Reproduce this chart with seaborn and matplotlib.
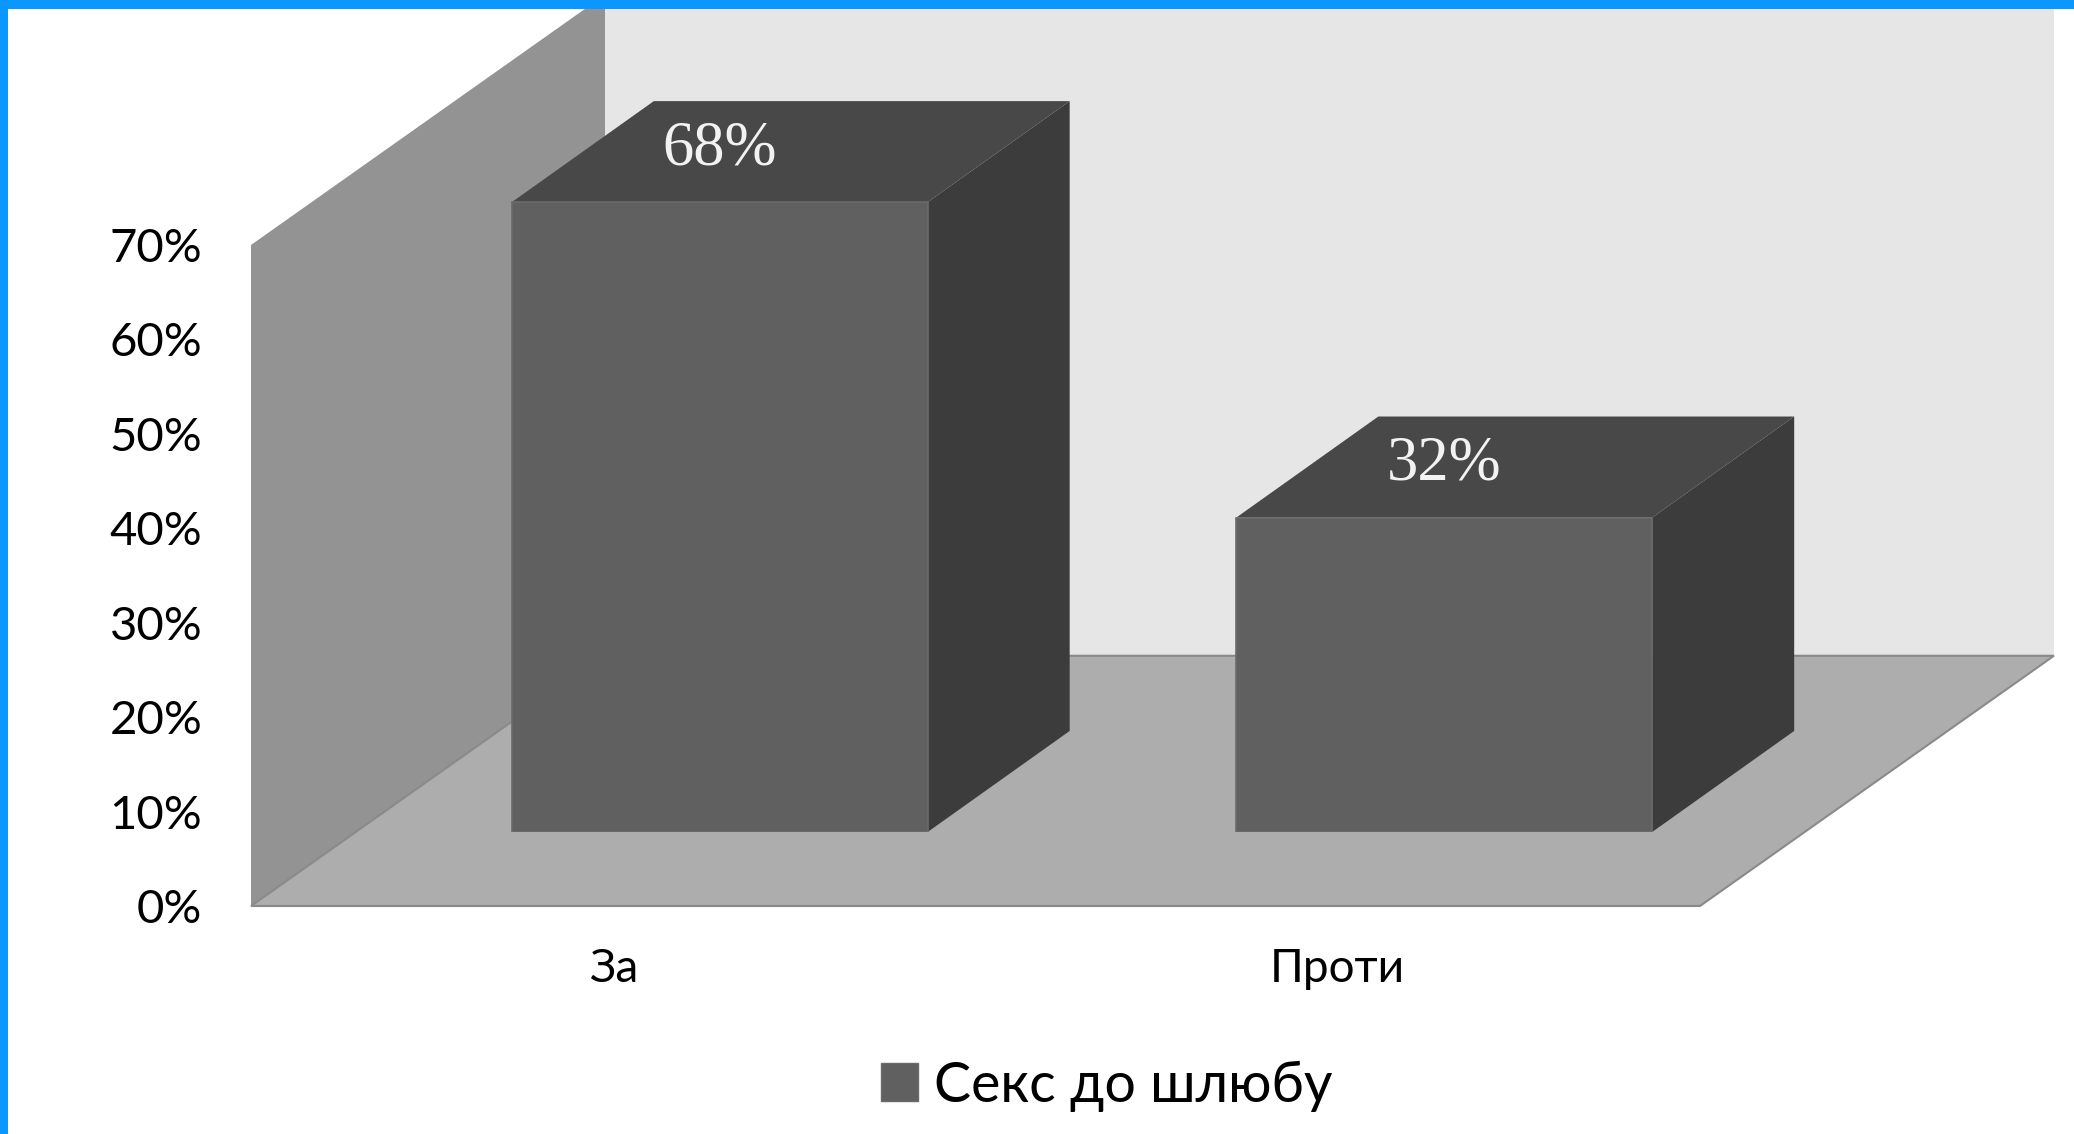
"""
3D style bar chart, drawn with seaborn bars and projected side faces
"""
import matplotlib
matplotlib.use("Agg")
import matplotlib.pyplot as plt
import seaborn as sns
from matplotlib.patches import Patch, Polygon, Rectangle

categories = ['За', 'Проти']
# heights as measured against the wall scale, the printed labels differ a bit
bar_heights = [66.7, 33.3]
value_labels = ['68%', '32%']
y_ticks = [0, 10, 20, 30, 40, 50, 60, 70]
y_tick_labels = ['0%', '10%', '20%', '30%', '40%', '50%', '60%', '70%']
series_name = 'Секс до шлюбу'

W, H = 2074, 1134
BLUE = '#0a97ff'
FRONT = '#606060'
TOP = '#484848'
SIDE = '#3c3c3c'
LEFT_WALL = '#939393'
BACK_WALL = '#e6e6e6'
FLOOR = '#adadad'
EDGE = '#8a8a8a'
BAR_EDGE = '#6a6a6a'

sns.set_theme(style='white')
plt.rcParams['font.family'] = ['Lato', 'Noto Sans', 'DejaVu Sans']

fig = plt.figure(figsize=(W / 100, H / 100), dpi=100, facecolor='white')


def axes_px(left, bottom_y, width, height):
    """Axes rectangle from pixel values, y measured from the top."""
    return fig.add_axes([left / W, (H - bottom_y) / H, width / W, height / H])


def add_poly(ax, pts, color, edge='none'):
    ax.add_patch(Polygon(pts, closed=True, facecolor=color, edgecolor=edge,
                         linewidth=1.5, clip_on=False))


# floor plane axes: carries the scale and tick labels
ax_floor = axes_px(251, 906, 1449, 661)
ax_floor.set_xlim(-0.5, 1.5)
ax_floor.set_ylim(0, 70)
sns.despine(ax=ax_floor, left=True, bottom=True, top=True, right=True)
ax_floor.patch.set_alpha(0)

depth_x, depth_y = 0.4886, 26.5
x0, x1 = -0.5, 1.5
add_poly(ax_floor, [(x0 + depth_x, depth_y), (x1 + depth_x, depth_y),
                    (x1 + depth_x, 100), (x0 + depth_x, 100)], BACK_WALL)
add_poly(ax_floor, [(x0, 0), (x0, 70), (x0 + depth_x, 70 + depth_y),
                    (x0 + depth_x, depth_y)], LEFT_WALL)
add_poly(ax_floor, [(x0, 0), (x1, 0), (x1 + depth_x, depth_y),
                    (x0 + depth_x, depth_y)], FLOOR, EDGE)

ax_floor.set_xticks([0, 1], categories)
ax_floor.set_yticks(y_ticks, y_tick_labels)
ax_floor.tick_params(axis='y', length=0, pad=35, labelsize=34, labelcolor='black')
ax_floor.tick_params(axis='x', length=0, pad=30, labelsize=33, labelcolor='black')

# bars stand further back on the floor, so their axes is shifted
ax_bars = axes_px(251 + 106.5, 906 - 74, 1449, 661)
sns.barplot(x=categories, y=bar_heights, color=FRONT, saturation=1, width=0.574,
            edgecolor=BAR_EDGE, linewidth=1.2, ax=ax_bars, zorder=3)
ax_bars.set_xlim(-0.5, 1.5)
ax_bars.set_ylim(0, 70)
ax_bars.axis('off')

bar_dx, bar_dy = 0.196, 10.7
for bar, label in zip(ax_bars.patches, value_labels):
    left, right = bar.get_x(), bar.get_x() + bar.get_width()
    top = bar.get_height()
    add_poly(ax_bars, [(right, 0), (right, top), (right + bar_dx, top + bar_dy),
                       (right + bar_dx, bar_dy)], SIDE)
    add_poly(ax_bars, [(left, top), (right, top), (right + bar_dx, top + bar_dy),
                       (left + bar_dx, top + bar_dy)], TOP)
    ax_bars.annotate(label, ((left + right) / 2, top), xytext=(0, 38),
                     textcoords='offset points', ha='center', va='center',
                     color='#f2f2f2', fontsize=45, family='Liberation Serif',
                     zorder=5)

handle = Patch(facecolor=FRONT, edgecolor=BAR_EDGE, linewidth=1)
ax_bars.legend([handle], [series_name], loc='center', frameon=False,
               bbox_to_anchor=(1107 / W, 1 - 1086 / H),
               bbox_transform=fig.transFigure, fontsize=40, handlelength=0.67,
               handleheight=0.67, handletextpad=0.29, labelcolor='black')

# blue slide frame on top and left
fig.add_artist(Rectangle((0, 1 - 9 / H), 1, 9 / H, transform=fig.transFigure,
                         facecolor=BLUE, edgecolor='none', zorder=10))
fig.add_artist(Rectangle((0, 0), 8 / W, 1, transform=fig.transFigure,
                         facecolor=BLUE, edgecolor='none', zorder=10))

fig.savefig('out.png', dpi=100, facecolor='white')
plt.close(fig)
